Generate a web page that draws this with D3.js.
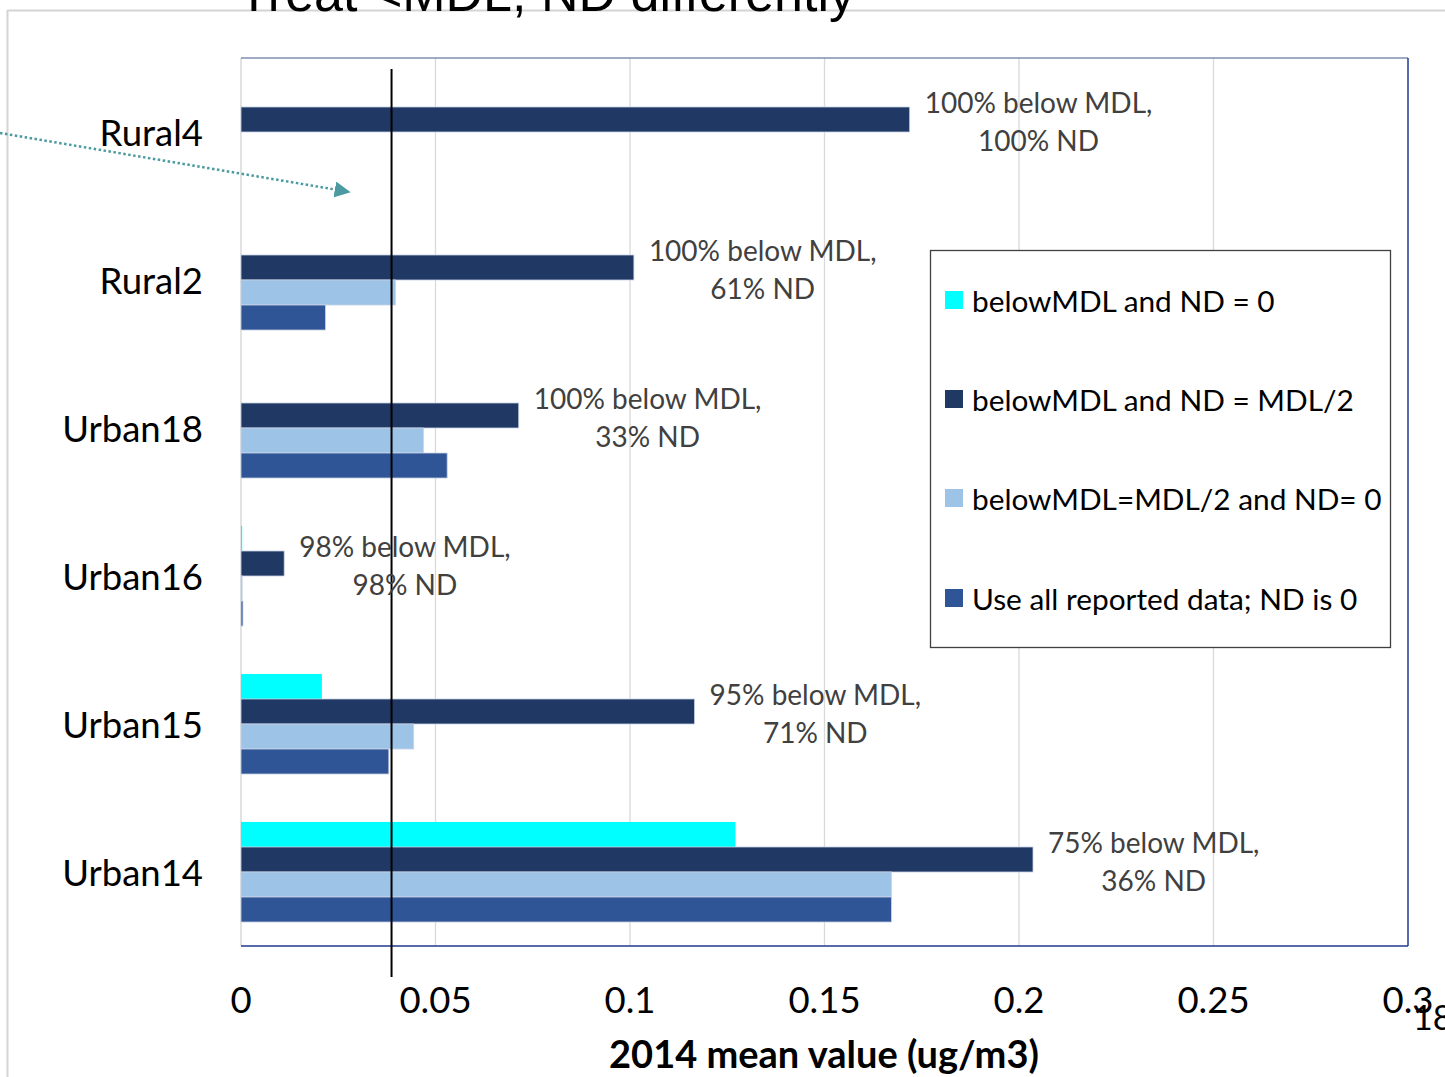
<!DOCTYPE html>
<html>
<head>
<meta charset="utf-8">
<script src="https://cdn.jsdelivr.net/npm/d3@7"></script>
<style>
  html, body { margin: 0; padding: 0; background: #fff; }
  svg { display: block; }
  text { font-family: Lato, "Open Sans", "Noto Sans", sans-serif; }
</style>
</head>
<body>
<svg id="chart" width="1445" height="1077"></svg>
<script>
// Sites, top to bottom
const sites = ["Rural4", "Rural2", "Urban18", "Urban16", "Urban15", "Urban14"];

// Treatment scenarios (legend order = bar order inside each group)
const seriesNames = [
  "belowMDL and ND = 0",
  "belowMDL and ND = MDL/2",
  "belowMDL=MDL/2 and ND= 0",
  "Use all reported data; ND is 0"
];
const seriesColors = ["#00FFFF", "#203864", "#9DC3E6", "#2F5597"];

// 2014 mean values (ug/m3), one array per scenario, in site order
const ndZero      = [0,      0,      0,      0.0003, 0.0208, 0.1271];
const ndHalfMDL   = [0.1719, 0.1010, 0.0714, 0.0111, 0.1166, 0.2036];
const halfMDLnd0  = [0,      0.0397, 0.0469, 0.0003, 0.0444, 0.1672];
const allReported = [0,      0.0217, 0.0530, 0.0005, 0.0380, 0.1672];

// Per-site annotation
const pctBelowMDL = ["100%", "100%", "100%", "98%", "95%", "75%"];
const pctND       = ["100%", "61%",  "33%",  "98%", "71%", "36%"];

// Reference line (MDL)
const mdlValue = 0.0387;

const xTicks = [0, 0.05, 0.1, 0.15, 0.2, 0.25, 0.3];

const seriesData = [ndZero, ndHalfMDL, halfMDLnd0, allReported];

const svg = d3.select("#chart");

const plot = { left: 241, right: 1408, top: 58, bottom: 946 };

const x = d3.scaleLinear().domain([0, 0.3]).range([plot.left, plot.right]);
const y = d3.scaleBand().domain(sites).range([plot.top, plot.bottom])
  .paddingInner(0.324).paddingOuter(0.162);
const ySub = d3.scaleBand().domain(d3.range(seriesNames.length))
  .range([0, y.bandwidth()]).padding(0);

// Page frame
svg.append("line").attr("x1", 7).attr("x2", 1445).attr("y1", 10.5).attr("y2", 10.5)
  .attr("stroke", "#d4d4d4").attr("stroke-width", 2);
svg.append("line").attr("x1", 7.5).attr("x2", 7.5).attr("y1", 10).attr("y2", 1077)
  .attr("stroke", "#d4d4d4").attr("stroke-width", 2);

// Slide title (partially above the page)
svg.append("text").attr("x", 238).attr("y", 11)
  .style("font-family", "'Liberation Sans', Arial, sans-serif")
  .attr("font-size", 52).attr("fill", "#000")
  .text("Treat <MDL, ND differently");

// Vertical gridlines
svg.append("g").selectAll("line").data(xTicks.slice(1, -1)).join("line")
  .attr("x1", d => x(d)).attr("x2", d => x(d))
  .attr("y1", plot.top).attr("y2", plot.bottom)
  .attr("stroke", "#d9d9d9").attr("stroke-width", 1.3);

// Left axis line
svg.append("line").attr("x1", plot.left).attr("x2", plot.left)
  .attr("y1", plot.top).attr("y2", plot.bottom)
  .attr("stroke", "#d9d9d9").attr("stroke-width", 1.5);

// Bars
const groups = svg.append("g").selectAll("g").data(sites).join("g")
  .attr("transform", d => `translate(0,${y(d)})`);
groups.selectAll("rect")
  .data((site, i) => seriesData.map((arr, s) => ({ s, v: arr[i] })))
  .join("rect")
  .attr("x", x(0))
  .attr("y", d => ySub(d.s))
  .attr("width", d => Math.max(0, x(d.v) - x(0)))
  .attr("height", ySub.bandwidth())
  .attr("fill", d => seriesColors[d.s])
  .attr("stroke", d => d.v > 0 && d.s !== 0 ? "#c9d3e6" : "none")
  .attr("stroke-width", 0.8);

// Plot border (top, right, bottom)
svg.append("line").attr("x1", plot.left).attr("x2", plot.right).attr("y1", plot.top).attr("y2", plot.top)
  .attr("stroke", "#7f8fb3").attr("stroke-width", 1.5);
svg.append("line").attr("x1", plot.right).attr("x2", plot.right).attr("y1", plot.top).attr("y2", plot.bottom)
  .attr("stroke", "#1f3a8f").attr("stroke-width", 1.5);
svg.append("line").attr("x1", plot.left).attr("x2", plot.right).attr("y1", plot.bottom).attr("y2", plot.bottom)
  .attr("stroke", "#1f3a8f").attr("stroke-width", 1.5);

// MDL reference line
svg.append("line").attr("x1", x(mdlValue)).attr("x2", x(mdlValue))
  .attr("y1", 69).attr("y2", 977)
  .attr("stroke", "#000").attr("stroke-width", 2);

// Category labels
svg.append("g").selectAll("text").data(sites).join("text")
  .attr("x", 203).attr("y", d => y(d) + y.bandwidth() / 2)
  .attr("text-anchor", "end").attr("dominant-baseline", "central")
  .attr("font-size", 36.5).attr("fill", "#000")
  .text(d => d);

// Annotations next to the ND = MDL/2 bar
sites.forEach((site, i) => {
  const x0 = x(ndHalfMDL[i]) + 15;
  const g = svg.append("g");
  const l1 = g.append("text")
    .attr("x", x0).attr("y", y(site) + 20)
    .attr("dominant-baseline", "central")
    .attr("font-size", 28).attr("fill", "#404040")
    .text(`${pctBelowMDL[i]} below MDL,`);
  const w = l1.node().getComputedTextLength();
  g.append("text")
    .attr("x", x0 + w / 2).attr("y", y(site) + 58)
    .attr("text-anchor", "middle").attr("dominant-baseline", "central")
    .attr("font-size", 28).attr("fill", "#404040")
    .text(`${pctND[i]} ND`);
});

// X axis tick labels
svg.append("g").selectAll("text").data(xTicks).join("text")
  .attr("x", d => x(d)).attr("y", 999)
  .attr("text-anchor", "middle").attr("dominant-baseline", "central")
  .attr("font-size", 36.5).attr("fill", "#000")
  .text(d => d3.format("~g")(d));

// X axis title
svg.append("text").attr("x", 824).attr("y", 1053)
  .attr("text-anchor", "middle").attr("dominant-baseline", "central")
  .attr("font-size", 38).attr("font-weight", "bold").attr("fill", "#000")
  .text("2014 mean value (ug/m3)");

// Legend
const legend = svg.append("g");
legend.append("rect").attr("x", 930.5).attr("y", 250.5).attr("width", 460).attr("height", 397)
  .attr("fill", "#fff").attr("stroke", "#404040").attr("stroke-width", 1.3);
const legendY = [300, 399, 498, 598];
seriesNames.forEach((name, s) => {
  legend.append("rect").attr("x", 945).attr("y", legendY[s] - 9).attr("width", 18).attr("height", 18)
    .attr("fill", seriesColors[s]);
  legend.append("text").attr("x", 972).attr("y", legendY[s])
    .attr("dominant-baseline", "central")
    .attr("font-size", 29.8).attr("fill", "#000")
    .text(name);
});

// Dotted arrow pointing into the chart
const defs = svg.append("defs");
defs.append("marker").attr("id", "arrowhead")
  .attr("viewBox", "0 0 10 10").attr("refX", 2).attr("refY", 5)
  .attr("markerWidth", 16).attr("markerHeight", 16).attr("orient", "auto")
  .attr("markerUnits", "userSpaceOnUse")
  .append("path").attr("d", "M0,0 L10,5 L0,10 Z").attr("fill", "#4a9aa0");
svg.append("line").attr("x1", 0).attr("y1", 133).attr("x2", 338).attr("y2", 190)
  .attr("stroke", "#4a9aa0").attr("stroke-width", 2.5)
  .attr("stroke-dasharray", "2.5 2.5")
  .attr("marker-end", "url(#arrowhead)");

// Slide number (partly outside the page)
svg.append("text").attr("x", 1413).attr("y", 1030)
  .attr("font-size", 34).attr("fill", "#000")
  .text("18");
</script>
</body>
</html>
